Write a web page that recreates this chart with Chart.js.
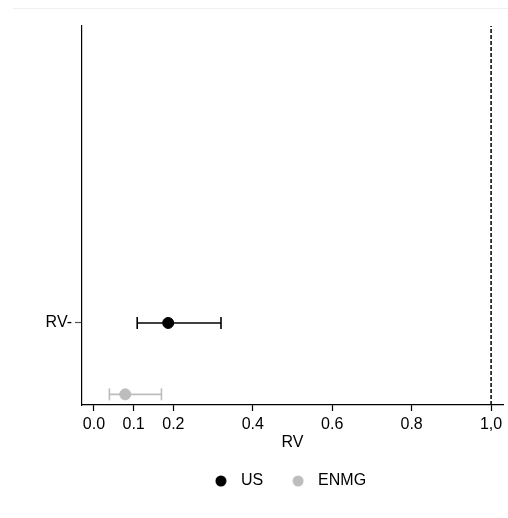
<!DOCTYPE html>
<html>
<head>
<meta charset="utf-8">
<script src="https://cdn.jsdelivr.net/npm/chart.js@4/dist/chart.umd.min.js"></script>
<style>
  body { margin: 0; background: #fff; }
  #wrap { position: relative; width: 508px; height: 518px; }
  #topline { position: absolute; left: 13px; top: 8px; width: 495px; height: 1px; background: #eef1f3; }
</style>
</head>
<body>
<div id="wrap">
  <div id="topline"></div>
  <canvas id="forestChart" width="508" height="518"></canvas>
</div>
<script>
// Estimates
const groups = ['US', 'ENMG'];
const groupColors = ['#000000', '#bdbdbd'];
const estimates = [0.187, 0.079];
const lowerCI = [0.109, 0.039];
const upperCI = [0.320, 0.170];
const rowPos = [1, 0.13];          // RV- row, ENMG dodged below

const yTickValues = [1];
const yTickLabels = ['RV-'];
const xTickValues = [0.0, 0.1, 0.2, 0.4, 0.6, 0.8, 1.0];
const xTickLabels = ['0.0', '0.1', '0.2', '0.4', '0.6', '0.8', '1,0'];
const refLineX = 1.0;
const yMin = 0, yMax = 4.62;

const FONT = 'Liberation Sans, Arial, Helvetica, sans-serif';

// round legend marker drawn as an image so the gap to the text can be wider
function dot(color) {
    const c = document.createElement('canvas');
    c.width = 12; c.height = 12;
    const g = c.getContext('2d');
    g.fillStyle = color;
    g.beginPath();
    g.arc(6, 6, 5.5, 0, Math.PI * 2);
    g.fill();
    return c;
}

// nudge the legend so it sits centred under the plot like the original
const legendNudge = {
    id: 'legendNudge',
    afterLayout(chart) {
        const lg = chart.legend;
        lg.left -= 5; lg.right -= 5;
        lg.top -= 2; lg.bottom -= 2;
    }
};

const pointSets = groups.map((g, i) => ({
    label: g,
    type: 'scatter',
    data: [{ x: estimates[i], y: rowPos[i] }],
    backgroundColor: groupColors[i],
    borderColor: groupColors[i],
    pointRadius: 5.5,
    pointHoverRadius: 5.5,
    order: 0
}));

const barSets = groups.map((g, i) => ({
    label: g + ' CI',
    type: 'line',
    data: [{ x: lowerCI[i], y: rowPos[i] }, { x: upperCI[i], y: rowPos[i] }],
    borderColor: groupColors[i],
    borderWidth: 1.6,
    pointStyle: 'line',
    rotation: 90,
    pointRadius: 6,
    pointBorderWidth: 1.6,
    pointBorderColor: groupColors[i],
    showLine: true,
    order: 1
}));

const refSet = {
    label: 'ref',
    type: 'line',
    data: [{ x: refLineX, y: yMin }, { x: refLineX, y: yMax }],
    borderColor: '#000',
    borderWidth: 1.5,
    borderDash: [4, 2],
    pointRadius: 0,
    showLine: true,
    order: 2
};

new Chart(document.getElementById('forestChart'), {
    type: 'scatter',
    data: { datasets: [...pointSets, ...barSets, refSet] },
    plugins: [legendNudge],
    options: {
        responsive: false,
        animation: false,
        layout: { autoPadding: false, padding: { top: 26, right: 5, left: 0, bottom: 17 } },
        plugins: {
            tooltip: { enabled: false },
            legend: {
                position: 'bottom',
                fullSize: false,
                labels: {
                    filter: item => item.datasetIndex < groups.length,
                    generateLabels: chart => {
                        const items = Chart.defaults.plugins.legend.labels.generateLabels(chart);
                        items.forEach(it => {
                            if (it.datasetIndex < groups.length) it.pointStyle = dot(groupColors[it.datasetIndex]);
                        });
                        return items;
                    },
                    usePointStyle: true,
                    pointStyleWidth: 24,
                    boxHeight: 12,
                    padding: 23,
                    color: '#000',
                    font: { family: FONT, size: 16 }
                }
            }
        },
        scales: {
            x: {
                type: 'linear',
                min: -0.03,
                max: 1.03,
                afterBuildTicks: axis => { axis.ticks = xTickValues.map(v => ({ value: v })); },
                afterFit: axis => { axis.height = 47; axis.paddingLeft = 0; axis.paddingRight = 0; },
                ticks: {
                    autoSkip: false,
                    maxRotation: 0,
                    padding: 4,
                    color: '#000',
                    font: { family: FONT, size: 16 },
                    callback: (v) => xTickLabels[xTickValues.indexOf(v)] ?? ''
                },
                grid: { drawOnChartArea: false, drawTicks: true, tickLength: 6, tickColor: '#000', tickWidth: 1.2 },
                border: { display: true, color: '#000', width: 1.2 },
                title: {
                    display: true, text: 'RV', color: '#000',
                    font: { family: FONT, size: 16 },
                    padding: { top: 0, bottom: 0 }
                }
            },
            y: {
                type: 'linear',
                min: yMin,
                max: yMax,
                afterBuildTicks: axis => { axis.ticks = yTickValues.map(v => ({ value: v })); },
                afterFit: axis => { axis.width = 82; },
                ticks: {
                    padding: 3,
                    color: '#000',
                    font: { family: FONT, size: 16 },
                    callback: (v) => yTickLabels[yTickValues.indexOf(v)] ?? ''
                },
                grid: { drawOnChartArea: false, drawTicks: true, tickLength: 7, tickColor: '#555', tickWidth: 1.2 },
                border: { display: true, color: '#000', width: 1.2 }
            }
        }
    }
});
</script>
</body>
</html>
